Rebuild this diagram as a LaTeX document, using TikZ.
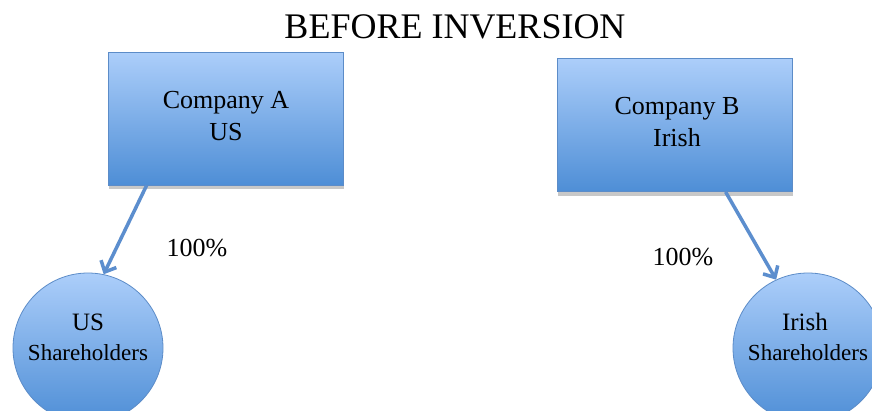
\documentclass[tikz,border=0pt]{standalone}
\usepackage{fontspec}
\setmainfont{Liberation Serif}
\usetikzlibrary{arrows.meta,shadows,calc}
\definecolor{topblue}{RGB}{172,206,250}
\definecolor{botblue}{RGB}{78,142,214}
\definecolor{edgeblue}{RGB}{92,140,200}
\definecolor{arrowblue}{RGB}{92,142,206}
\tikzset{
  company/.style={draw=edgeblue, line width=0.8pt, top color=topblue, bottom color=botblue,
    minimum width=235pt, minimum height=133pt, inner sep=0pt,
    drop shadow={shadow xshift=1pt, shadow yshift=-4pt, opacity=0.3, fill=black!70}},
  holder/.style={circle, draw=edgeblue, line width=0.8pt, top color=topblue, bottom color=botblue,
    minimum size=150pt, inner sep=0pt},
  txt/.style={align=center, inner sep=0pt, font=\fontsize{26}{32}\selectfont},
  own/.style={draw=arrowblue, line width=3.5pt, -{Straight Barb[length=9pt,width=17pt,line width=3.5pt]}},
}
\begin{document}
\begin{tikzpicture}[x=1pt,y=-1pt]
\useasboundingbox[fill=white] (0,0) rectangle (872,410);
\node[inner sep=0pt, font=\fontsize{36}{40}\selectfont] (title) at (455,27) {BEFORE INVERSION};
\node[company] (a) at (225.5,118.5) {};
\node[company] (b) at (674.5,125) {};
\node[txt] (at) at (226,116) {Company A\\US};
\node[txt] (bt) at (677,122) {Company B\\Irish};
\node[holder] (us) at (88,348) {};
\node[holder] (ir) at (808,348) {};
\node[inner sep=0pt, font=\fontsize{25}{30}\selectfont] (ust) at (88,322) {US};
\node[inner sep=0pt, font=\fontsize{23}{28}\selectfont] (uss) at (88,353) {Shareholders};
\node[inner sep=0pt, font=\fontsize{25}{30}\selectfont] (irt) at (805,322) {Irish};
\node[inner sep=0pt, font=\fontsize{23}{28}\selectfont] (irs) at (808,353) {Shareholders};
\node[inner sep=0pt, font=\fontsize{26}{30}\selectfont] (pa) at (197,248) {100\%};
\node[inner sep=0pt, font=\fontsize{26}{30}\selectfont] (pb) at (683,257) {100\%};
\draw[own] ($(a.south west)+(39,0)$) -- (us.78);
\draw[own] ($(b.south west)+(169,0)$) -- (ir.115);
\end{tikzpicture}
\end{document}
